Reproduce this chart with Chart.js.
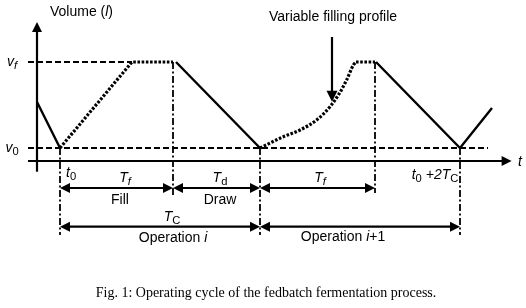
<!DOCTYPE html>
<html>
<head>
<meta charset="utf-8">
<script src="https://cdn.jsdelivr.net/npm/chart.js@4.4.1/dist/chart.umd.min.js"></script>
<style>
  html, body { margin: 0; padding: 0; background: #fff; }
  canvas { display: block; }
</style>
</head>
<body>
<canvas id="cycle" width="526" height="308"></canvas>
<script>
// time in arbitrary units (t0 = 0, one cycle TC = 10), volume in arbitrary units
const V0 = 1.3, VF = 9.9, TF = 5.65, TC = 10;

// volume profile segments
const startT = [-1.15, 0];           const startV = [5.9, V0];
const fill1T = [0, 3.6, TF];         const fill1V = [V0, VF, VF];
const draw1T = [5.8, TC];            const draw1V = [VF, V0];
const curveT = [10, 11.17, 12.0, 12.83, 13.5, 13.92, 14.33, 14.67, 14.8];
const curveV = [V0, 2.43, 3.1, 4.1, 5.43, 6.6, 8.1, 9.6, VF];
const flat2T = [14.8, 15.75];        const flat2V = [VF, VF];
const draw2T = [15.8, 20, 21.6];     const draw2V = [VF, V0, 5.3];

// dashed reference levels
const refLevels = [VF, V0];
const refFrom = [-1.6, -1.6];
const refTo = [3.6, 21.4];

// dash-dot markers
const markT = [0, TF, TC, TC + 5.75, 2 * TC];
const markTop = [V0, VF, V0, VF, V0];
const markBottom = [-7.4, -3.4, -7.4, -3.2, -7.4];

// double arrows (interval spans)
const rowV = [-2.7, -6.57];
const spanFrom = [0, TF, TC, 0, TC];
const spanTo = [TF, TC, TC + 5.75, TC, 2 * TC];
const spanRow = [0, 0, 0, 1, 1];

// axes
const yAxisT = -1.15, yAxisFrom = -1.07, yAxisTip = 13.9;
const xAxisFrom = -1.6, xAxisTip = 22.58;

// text labels: segments [text, style] where style i = italic, s = subscript
const labelT = [-0.5, -2.4, -2.4, 0.3, 3.25, 3.0, 8.0, 8.0, 5.6, 5.65, 13.0, 18.75, 14.15, 13.65, 22.9];
const labelV = [14.9, 9.9, 1.3, -1.2, -1.7, -3.9, -1.7, -3.9, -5.6, -7.7, -1.7, -1.4, -7.6, 14.4, -0.1];
const labelAlign = ["left", "center", "center", "left", "center", "center", "center", "center", "center", "center", "center", "center", "center", "center", "left"];
const labelText = [
  [["Volume (", ""], ["l", "i"], [")", ""]],
  [["v", "i"], ["f", "is"]],
  [["v", "i"], ["0", "s"]],
  [["t", "i"], ["0", "s"]],
  [["T", "i"], ["f", "is"]],
  [["Fill", ""]],
  [["T", "i"], ["d", "s"]],
  [["Draw", ""]],
  [["T", "i"], ["C", "s"]],
  [["Operation ", ""], ["i", "i"]],
  [["T", "i"], ["f", "is"]],
  [["t", "i"], ["0", "s"], [" +2", "i"], ["T", "i"], ["C", "s"]],
  [["Operation ", ""], ["i", "i"], ["+1", ""]],
  [["Variable filling profile", ""]],
  [["t", "i"]]
];

// pointer arrow
const pointerT = 13.6, pointerFrom = 12.4, pointerTip = 5.93;

const captionText = "Fig. 1: Operating cycle of the fedbatch fermentation process.";
const captionT = 10.3, captionV = -13.2;

function pts(ts, vs) {
  return ts.map((t, i) => ({ x: t, y: vs[i] }));
}

function lineSet(data, opts) {
  return Object.assign({
    data: data,
    showLine: true,
    borderColor: "#000",
    borderWidth: 2.4,
    pointRadius: 0,
    fill: false,
    clip: false,
    tension: 0,
  }, opts);
}

const SOLID = { borderWidth: 2.4 };
const DOTTED = { borderWidth: 3.2, borderDash: [2.6, 1.6] };
const DASHED = { borderWidth: 1.9, borderDash: [6, 3] };
const DASHDOT = { borderWidth: 1.8, borderDash: [7, 2.5, 2, 2.5] };

const datasets = [];
datasets.push(lineSet(pts(startT, startV), SOLID));
datasets.push(lineSet(pts(fill1T, fill1V), DOTTED));
datasets.push(lineSet(pts(draw1T, draw1V), SOLID));
datasets.push(lineSet(pts(curveT, curveV), Object.assign({ cubicInterpolationMode: "monotone" }, DOTTED)));
datasets.push(lineSet(pts(flat2T, flat2V), DOTTED));
datasets.push(lineSet(pts(draw2T, draw2V), SOLID));
refLevels.forEach((v, i) => {
  datasets.push(lineSet([{ x: refFrom[i], y: v }, { x: refTo[i], y: v }], DASHED));
});
markT.forEach((t, i) => {
  datasets.push(lineSet([{ x: t, y: markTop[i] }, { x: t, y: markBottom[i] }], DASHDOT));
});
// axes lines
datasets.push(lineSet([{ x: yAxisT, y: yAxisFrom }, { x: yAxisT, y: yAxisTip - 0.9 }], { borderWidth: 2.2 }));
datasets.push(lineSet([{ x: xAxisFrom, y: 0 }, { x: xAxisTip - 0.45, y: 0 }], { borderWidth: 2.2 }));

function arrowHead(ctx, x, y, dx, dy, len, half) {
  // (x, y) is the tip, (dx, dy) unit direction of travel
  ctx.beginPath();
  ctx.moveTo(x, y);
  ctx.lineTo(x - dx * len - dy * half, y - dy * len + dx * half);
  ctx.lineTo(x - dx * len + dy * half, y - dy * len - dx * half);
  ctx.closePath();
  ctx.fill();
}

function fontFor(style, size) {
  const sz = style.includes("s") ? size * 0.8 : size;
  return (style.includes("i") ? "italic " : "") + sz + "px 'Liberation Sans', Arial, sans-serif";
}

function drawRich(ctx, x, y, segs, size, align) {
  let total = 0;
  segs.forEach(([txt, st]) => {
    ctx.font = fontFor(st, size);
    total += ctx.measureText(txt).width;
  });
  let cx = align === "center" ? x - total / 2 : x;
  ctx.textAlign = "left";
  ctx.textBaseline = "middle";
  segs.forEach(([txt, st]) => {
    ctx.font = fontFor(st, size);
    const dy = st.includes("s") ? size * 0.3 : 0;
    ctx.fillText(txt, cx, y + dy);
    cx += ctx.measureText(txt).width;
  });
}

const annotations = {
  id: "annotations",
  afterDatasetsDraw(chart) {
    const ctx = chart.ctx;
    const xs = chart.scales.x, ys = chart.scales.y;
    const px = (t) => xs.getPixelForValue(t);
    const py = (v) => ys.getPixelForValue(v);
    ctx.save();
    ctx.fillStyle = "#000";
    ctx.strokeStyle = "#000";

    // axis arrowheads
    arrowHead(ctx, px(yAxisT), py(yAxisTip), 0, -1, 10, 5);
    arrowHead(ctx, px(xAxisTip), py(0), 1, 0, 10, 5);

    // interval arrows
    ctx.lineWidth = 2.2;
    spanFrom.forEach((a, i) => {
      const y = py(rowV[spanRow[i]]);
      const x1 = px(a), x2 = px(spanTo[i]);
      ctx.beginPath();
      ctx.moveTo(x1 + 6, y);
      ctx.lineTo(x2 - 6, y);
      ctx.stroke();
      arrowHead(ctx, x1, y, -1, 0, 10, 5);
      arrowHead(ctx, x2, y, 1, 0, 10, 5);
    });

    // pointer arrow
    ctx.lineWidth = 2.2;
    ctx.beginPath();
    ctx.moveTo(px(pointerT), py(pointerFrom));
    ctx.lineTo(px(pointerT), py(pointerTip) - 8);
    ctx.stroke();
    arrowHead(ctx, px(pointerT), py(pointerTip), 0, 1, 11, 5.5);

    // labels
    labelText.forEach((segs, i) => {
      drawRich(ctx, px(labelT[i]), py(labelV[i]), segs, 14, labelAlign[i]);
    });

    // caption
    ctx.font = "14px 'Liberation Serif', 'Times New Roman', serif";
    ctx.textAlign = "center";
    ctx.textBaseline = "middle";
    ctx.fillText(captionText, px(captionT), py(captionV));
    ctx.restore();
  },
};

new Chart(document.getElementById("cycle").getContext("2d"), {
  type: "scatter",
  data: { datasets: datasets },
  options: {
    responsive: false,
    animation: false,
    layout: { padding: 0 },
    scales: {
      x: { type: "linear", min: -3, max: 23.3, display: false },
      y: { type: "linear", min: -14.7, max: 16.1, display: false },
    },
    plugins: {
      legend: { display: false },
      tooltip: { enabled: false },
    },
  },
  plugins: [annotations],
});
</script>
</body>
</html>
